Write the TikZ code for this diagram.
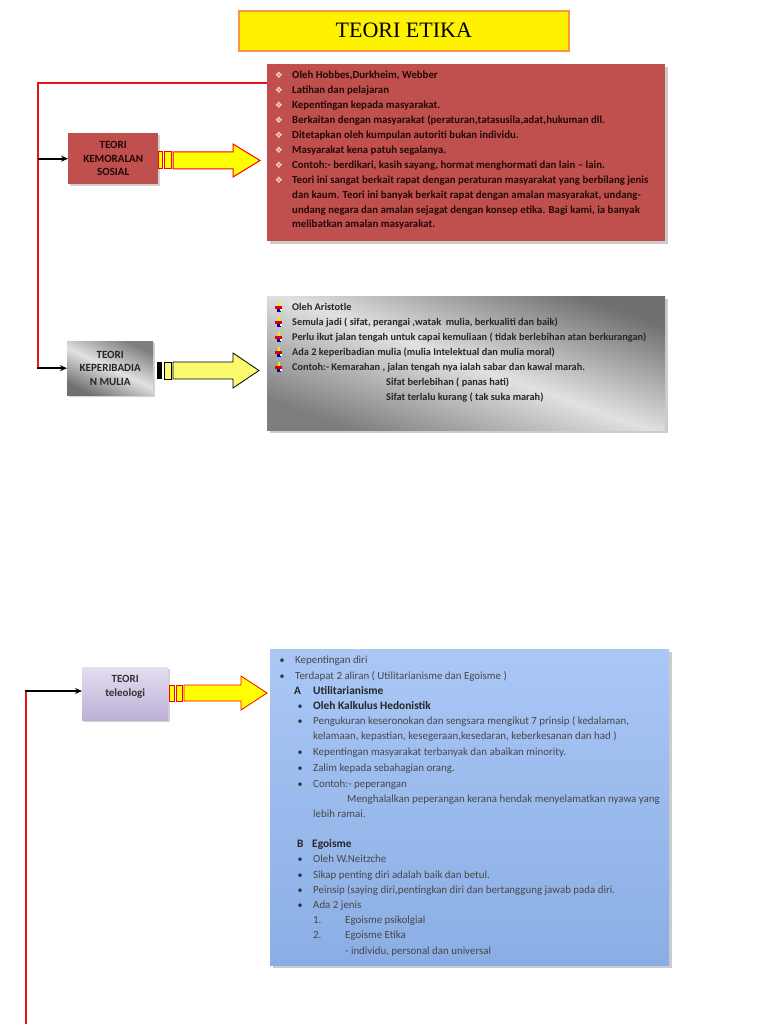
\documentclass[tikz,border=0pt]{standalone}
\usepackage{fontspec}
\setmainfont{Carlito}
\newfontfamily\titlefont{Liberation Serif}
\newfontfamily\symfont{DejaVu Sans}
\usetikzlibrary{shadows,calc,arrows.meta}
\definecolor{redbox}{RGB}{192,80,77}
\definecolor{redtxt}{RGB}{35,8,8}
\definecolor{titleorange}{RGB}{247,150,70}
\definecolor{linered}{RGB}{232,22,22}
\definecolor{ayellow}{RGB}{255,255,0}
\definecolor{ayellow2}{RGB}{250,250,110}
\definecolor{bultan}{RGB}{240,222,190}
\definecolor{blueT}{RGB}{170,199,246}
\definecolor{blueB}{RGB}{138,174,228}
\definecolor{lavT}{RGB}{228,222,240}
\definecolor{lavB}{RGB}{188,176,214}
\definecolor{gdark}{RGB}{112,112,112}
\definecolor{gdark2}{RGB}{125,125,125}
\definecolor{glight}{RGB}{225,225,225}
\newcommand\tl[5]{\node[#1, anchor=base west] (#2) at (#3,#4+3.5) {#5};}
\tikzset{
 lbl/.style={inner sep=0, anchor=north west, align=center, font=\fontsize{11}{13.5}\selectfont\bfseries, drop shadow={opacity=0.35,shadow xshift=2pt,shadow yshift=-2pt}},
 tbox/.style={inner sep=0, anchor=north west, drop shadow={opacity=0.4,shadow xshift=2.5pt,shadow yshift=-2.5pt}},
 rtext/.style={inner sep=0, text=redtxt, font=\fontsize{10.8}{12}\selectfont\bfseries},
 gtext/.style={inner sep=0, text=black!85, font=\fontsize{10.3}{12}\selectfont\bfseries},
 btext/.style={inner sep=0, text=black!72, font=\fontsize{10.9}{12}\selectfont},
 bbtext/.style={inner sep=0, text=black!85, font=\fontsize{11.4}{12}\selectfont\bfseries},
 rbul/.style={inner sep=0, anchor=base, text=bultan, font=\symfont\fontsize{9}{10}\selectfont},
 bbul/.style={inner sep=0, anchor=base, text=black!80, font=\fontsize{10}{10}\selectfont},
 redline/.style={draw=linered, line width=2.2pt, line join=miter},
 blkarrow/.style={draw=black, line width=1.8pt, -{Stealth[length=7pt,width=6pt]}},
}
\begin{document}
\begin{tikzpicture}[x=1pt,y=-1pt]
\useasboundingbox (0,0) rectangle (768,1024);
\fill[white] (0,0) rectangle (768,1024);

% title
\node[draw=titleorange, line width=1.6pt, fill=yellow, minimum width=330, minimum height=40, inner sep=0, anchor=north west] (title) at (238,10) {\titlefont\fontsize{22}{26}\selectfont TEORI ETIKA};

% label boxes
\node[lbl, fill=redbox, text=redtxt, minimum width=90, minimum height=51] (kemo) at (68,133) {TEORI\\KEMORALAN\\SOSIAL};
\node[lbl, top color=gdark2, bottom color=gdark, middle color=glight, shading angle=-25, text=black!85, minimum width=86, minimum height=54] (kep) at (67,341) {TEORI\\KEPERIBADIA\\N MULIA};
\node[lbl, top color=lavT, bottom color=lavB, minimum width=86, minimum height=53] (tele) at (82,667) {};
\node[inner sep=0, align=center, text=black!80, font=\fontsize{11}{13.5}\selectfont\bfseries] (telet) at ($(tele.center)+(0,-7)$) {TEORI\\teleologi};

% text boxes
\node[tbox, fill=redbox, minimum width=398, minimum height=177] (redtxtbox) at (267,64) {};
\node[tbox, top color=gdark, bottom color=gdark2, middle color=glight, shading angle=-20, minimum width=398, minimum height=134] (greybox) at (267,296) {};
\node[tbox, top color=blueT, bottom color=blueB, minimum width=399, minimum height=316] (bluebox) at (270,649) {};

% connectors
\coordinate (rtop) at (38,83);
\draw[redline] (redtxtbox.north west |- rtop) -- (rtop) -- (rtop |- kep.west);
\draw[blkarrow] (rtop |- kemo.west) -- (kemo.west);
\draw[blkarrow] ([xshift=-1pt]rtop |- kep.west) -- (kep.west);
\coordinate (rbot) at (26,1024);
\coordinate (rcorner) at (26,691);
\draw[redline] (rbot) -- (rcorner);
\draw[blkarrow] ([xshift=-1pt]rcorner) -- (rcorner -| tele.west);

% striped arrows
\filldraw[fill=ayellow, draw=red, line width=1pt] (158.5,152) rectangle (162,169);
\filldraw[fill=ayellow, draw=red, line width=1pt] (164,152) rectangle (171,169);
\filldraw[fill=ayellow, draw=red, line width=1pt] (173,152) -- (233,152) -- (233,144) -- (260,160.5) -- (233,177) -- (233,169) -- (173,169) -- cycle;

\fill[black] (157,362) rectangle (162,379);
\filldraw[fill=ayellow2, draw=black, line width=1pt] (164,362) rectangle (171,379);
\filldraw[fill=ayellow2, draw=black, line width=0.8pt] (173,362) -- (233,362) -- (233,353) -- (259,370.5) -- (233,388) -- (233,379) -- (173,379) -- cycle;

\filldraw[fill=ayellow, draw=red, line width=0.8pt] (169,685) rectangle (174,701);
\filldraw[fill=ayellow, draw=red, line width=0.8pt] (176,685) rectangle (182,701);
\filldraw[fill=ayellow, draw=red, line width=0.8pt] (184,685) -- (241,685) -- (241,676) -- (267,693) -- (241,710) -- (241,701) -- (184,701) -- cycle;

% red box text
\foreach \yy in {75,90,105,120,135,150,165,180} \node[rbul] at (279,\yy+3.5) {❖};
\tl{rtext}{r1}{292}{75}{Oleh Hobbes,Durkheim, Webber}
\tl{rtext}{r2}{292}{90}{Latihan dan pelajaran}
\tl{rtext}{r3}{292}{105}{Kepentingan kepada masyarakat.}
\tl{rtext}{r4}{292}{120}{Berkaitan dengan masyarakat (peraturan,tatasusila,adat,hukuman dll.}
\tl{rtext}{r5}{292}{135}{Ditetapkan oleh kumpulan autoriti bukan individu.}
\tl{rtext}{r6}{292}{150}{Masyarakat kena patuh segalanya.}
\tl{rtext}{r7}{292}{165}{Contoh:- berdikari, kasih sayang, hormat menghormati dan lain – lain.}
\tl{rtext}{r8}{292}{180}{Teori ini sangat berkait rapat dengan peraturan masyarakat yang berbilang jenis}
\tl{rtext}{r9}{292}{195}{dan kaum. Teori ini banyak berkait rapat dengan amalan masyarakat, undang-}
\tl{rtext}{r10}{292}{210}{undang negara dan amalan sejagat dengan konsep etika. Bagi kami, ia banyak}
\tl{rtext}{r11}{292}{224}{melibatkan amalan masyarakat.}

% grey box text
\foreach \yy in {307,322,337,352,367} {
  \fill[red!85!black] (275,\yy-1.5) rectangle (282,\yy+1.5);
  \fill[yellow!90!orange] (277.5,\yy-5) rectangle (279.5,\yy-1.5);
  \fill[blue!70!black] (276.5,\yy+1.5) rectangle (280.5,\yy+5);
  \fill[white] (280,\yy+1.5) rectangle (282,\yy+4);
}
\tl{gtext}{g1}{292}{307}{Oleh Aristotle}
\tl{gtext}{g2}{292}{322}{Semula jadi ( sifat, perangai ,watak\ \ mulia, berkualiti dan baik)}
\tl{gtext}{g3}{292}{337}{Perlu ikut jalan tengah untuk capai kemuliaan ( tidak berlebihan atan berkurangan)}
\tl{gtext}{g4}{292}{352}{Ada 2 keperibadian mulia (mulia Intelektual dan mulia moral)}
\tl{gtext}{g5}{292}{367}{Contoh:- Kemarahan , jalan tengah nya ialah sabar dan kawal marah.}
\tl{gtext}{g6}{386}{382}{Sifat berlebihan ( panas hati)}
\tl{gtext}{g7}{386}{397}{Sifat terlalu kurang ( tak suka marah)}

% blue box text
\foreach \yy in {660,676} \node[bbul] at (282,\yy+3.5) {•};
\foreach \yy in {706,721,752,768,784,859,875,890,905} \node[bbul] at (300,\yy+3.5) {•};
\tl{btext}{b1}{295}{660}{Kepentingan diri}
\tl{btext}{b2}{295}{676}{Terdapat 2 aliran ( Utilitarianisme dan Egoisme )}
\tl{bbtext}{b3a}{294}{691}{A}
\tl{bbtext}{b3}{313}{691}{Utilitarianisme}
\tl{bbtext}{b4}{313}{706}{Oleh Kalkulus Hedonistik}
\tl{btext}{b5}{313}{721}{Pengukuran keseronokan dan sengsara mengikut 7 prinsip ( kedalaman,}
\tl{btext}{b6}{313}{736}{kelamaan, kepastian, kesegeraan,kesedaran, keberkesanan dan had )}
\tl{btext}{b7}{313}{752}{Kepentingan masyarakat terbanyak dan abaikan minority.}
\tl{btext}{b8}{313}{768}{Zalim kepada sebahagian orang.}
\tl{btext}{b9}{313}{784}{Contoh:- peperangan}
\tl{btext}{b10}{347}{799}{Menghalalkan peperangan kerana hendak menyelamatkan nyawa yang}
\tl{btext}{b11}{313}{814}{lebih ramai.}
\tl{bbtext}{b12a}{297}{844}{B}
\tl{bbtext}{b12}{312}{844}{Egoisme}
\tl{btext}{b13}{313}{859}{Oleh W.Neitzche}
\tl{btext}{b14}{313}{875}{Sikap penting diri adalah baik dan betul.}
\tl{btext}{b15}{313}{890}{Peinsip (saying diri,pentingkan diri dan bertanggung jawab pada diri.}
\tl{btext}{b16}{313}{905}{Ada 2 jenis}
\tl{btext}{b17a}{313}{920}{1.}
\tl{btext}{b17}{345}{920}{Egoisme psikolgial}
\tl{btext}{b18a}{313}{935}{2.}
\tl{btext}{b18}{345}{935}{Egoisme Etika}
\tl{btext}{b19}{345}{951}{- individu, personal dan universal}
\end{tikzpicture}
\end{document}
